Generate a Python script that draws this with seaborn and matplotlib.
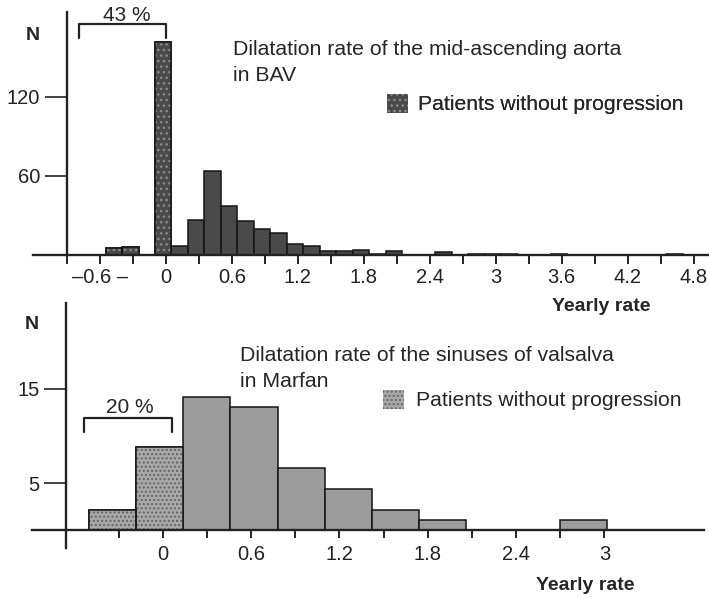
import numpy as np
import pandas as pd
import seaborn as sns
import matplotlib.pyplot as plt
from matplotlib.patches import Patch

# mid-ascending aorta in BAV (bins of 0.15 per year)
bav_edges = [-0.55, -0.40, -0.25, -0.10, 0.05, 0.20, 0.35, 0.50, 0.65, 0.80,
             0.95, 1.10, 1.25, 1.40, 1.55, 1.70, 1.85, 2.00, 2.15, 2.30,
             2.45, 2.60, 2.75, 2.90, 3.05, 3.20, 3.35, 3.50, 3.65, 3.80,
             3.95, 4.10, 4.25, 4.40, 4.55, 4.70]
bav_counts = [5, 6, 0, 162, 6.5, 26.5, 64, 37.5, 26, 19.5,
              16.5, 8.5, 6.5, 3, 3, 4, 1, 3, 0, 0,
              2, 0, 1, 1, 1, 0, 0, 1, 0, 0,
              0, 0, 0, 0, 1]
bav_no_prog = 4   # first bins = patients without progression
bav_ticks = [-0.9, -0.6, -0.3, 0, 0.3, 0.6, 0.9, 1.2, 1.5, 1.8,
             2.1, 2.4, 2.7, 3.0, 3.3, 3.6, 3.9, 4.2, 4.5, 4.8]
bav_tick_labels = ['', '–0.6 –', '', '0', '', '0.6', '', '1.2', '', '1.8',
                   '', '2.4', '', '3', '', '3.6', '', '4.2', '', '4.8']

# sinuses of valsalva in Marfan (bins of 0.32 per year)
mfs_edges = [-0.50, -0.18, 0.14, 0.46, 0.78, 1.10, 1.42, 1.74, 2.06, 2.38, 2.70, 3.02]
mfs_counts = [2.2, 8.8, 14.1, 13.1, 6.6, 4.4, 2.2, 1.05, 0, 0, 1.05]
mfs_no_prog = 2
mfs_ticks = [-0.3, 0, 0.3, 0.6, 0.9, 1.2, 1.5, 1.8, 2.1, 2.4, 2.7, 3.0]
mfs_tick_labels = ['', '0', '', '0.6', '', '1.2', '', '1.8', '', '2.4', '', '3']

sns.set_style('white')
plt.rcParams['font.family'] = ['Liberation Sans', 'DejaVu Sans']
plt.rcParams['hatch.linewidth'] = 1.0

W, H = 709, 598
fig = plt.figure(figsize=(W / 100, H / 100), dpi=100)


def fx(px):
    return px / W


def fy(py):
    return 1 - py / H


def hist_panel(ax, edges, counts, n_dot, fill, dot_fill, dot_color, hatch):
    centers = [(a + b) / 2 for a, b in zip(edges[:-1], edges[1:])]
    df = pd.DataFrame({'rate': centers, 'n': counts})
    sns.histplot(data=df, x='rate', weights='n', bins=edges, ax=ax,
                 color=fill, edgecolor='#151515', linewidth=1.1, alpha=1)
    # dotted fill for patients without progression
    n0 = len(ax.patches)
    sns.histplot(data=df.iloc[:n_dot], x='rate', weights='n', bins=edges[:n_dot + 1],
                 ax=ax, color=dot_fill, alpha=1)
    for p in ax.patches[n0:]:
        p.set_facecolor(dot_fill)
        p.set_edgecolor(dot_color)
        p.set_hatch(hatch)
        p.set_linewidth(0)
    n1 = len(ax.patches)
    sns.histplot(data=df.iloc[:n_dot], x='rate', weights='n', bins=edges[:n_dot + 1],
                 ax=ax, color=dot_fill, alpha=1)
    for p in ax.patches[n1:]:
        p.set_facecolor('none')
        p.set_edgecolor('#151515')
        p.set_linewidth(1.1)
    ax.set_xlabel('')
    ax.set_ylabel('')


def style_axes(ax, yaxis_x, ticks, labels, yticks, xlen, xpad):
    sns.despine(ax=ax)
    ax.spines['left'].set_position(('data', yaxis_x))
    ax.spines['bottom'].set_position(('data', 0))
    for s in ['left', 'bottom']:
        ax.spines[s].set_linewidth(1.7)
        ax.spines[s].set_color('#222222')
    ax.set_xticks(ticks)
    ax.set_xticklabels(labels)
    ax.set_yticks(yticks)
    ax.tick_params(axis='x', direction='out', length=xlen, width=1.4, pad=xpad,
                   labelsize=14.5, colors='#222222', bottom=True)
    ax.tick_params(axis='y', direction='out', length=16, width=1.2, pad=3.5,
                   labelsize=14.5, colors='#222222', left=True)
    ax.patch.set_alpha(0)


# ---- top panel ----
ax1 = fig.add_axes([fx(33), fy(255), fx(709) - fx(33), (255 - 12) / H])
hist_panel(ax1, bav_edges, bav_counts, bav_no_prog, '#4a4a4a', '#4a4a4a', '#8a8a8a', '...')
ax1.set_xlim(-1.21, 4.94)
ax1.set_ylim(0, 184.4)
style_axes(ax1, -0.9, bav_ticks, bav_tick_labels, [60, 120], 6.5, 3)

ax1.plot([-0.79, -0.79, 0.0, 0.0], [164.5, 175.3, 175.3, 164.5], color='#222222',
         lw=1.6, clip_on=False)
fig.text(fx(127), fy(21), '43 %', ha='center', va='baseline', fontsize=15)
fig.text(fx(33), fy(40), 'N', ha='center', va='baseline', fontsize=14, fontweight='bold')
fig.text(fx(233), fy(55), 'Dilatation rate of the mid-ascending aorta', ha='left',
         va='baseline', fontsize=15.3)
fig.text(fx(233), fy(81), 'in BAV', ha='left', va='baseline', fontsize=15.3)
fig.text(fx(601), fy(311), 'Yearly rate', ha='center', va='baseline', fontsize=14,
         fontweight='bold')
leg1 = fig.legend(handles=[Patch(facecolor='#4a4a4a', edgecolor='#8a8a8a', hatch='...',
                                 linewidth=0)],
                  labels=['Patients without progression'], loc='center left',
                  bbox_to_anchor=(fx(387), fy(104)), frameon=False, fontsize=15.2,
                  handlelength=1.0, handleheight=1.0, handletextpad=0.45,
                  borderpad=0, borderaxespad=0)

# ---- bottom panel ----
ax2 = fig.add_axes([fx(32), fy(548), fx(704) - fx(32), (548 - 303) / H])
hist_panel(ax2, mfs_edges, mfs_counts, mfs_no_prog, '#9c9c9c', '#a8a8a8', '#666666', '....')
ax2.set_xlim(-0.888, 3.677)
ax2.set_ylim(-1.87, 24.1)
style_axes(ax2, -0.654, mfs_ticks, mfs_tick_labels, [5, 15], 5.5, 5)

ax2.plot([-0.532, -0.532, 0.066, 0.066], [10.45, 11.9, 11.9, 10.45], color='#222222',
         lw=1.6, clip_on=False)
fig.text(fx(130), fy(412.7), '20 %', ha='center', va='baseline', fontsize=15)
fig.text(fx(32), fy(329), 'N', ha='center', va='baseline', fontsize=14, fontweight='bold')
fig.text(fx(240), fy(361), 'Dilatation rate of the sinuses of valsalva', ha='left',
         va='baseline', fontsize=15.3)
fig.text(fx(240), fy(387), 'in Marfan', ha='left', va='baseline', fontsize=15.3)
fig.text(fx(585), fy(590), 'Yearly rate', ha='center', va='baseline', fontsize=14,
         fontweight='bold')
leg2 = fig.legend(handles=[Patch(facecolor='#a8a8a8', edgecolor='#666666', hatch='....',
                                 linewidth=0)],
                  labels=['Patients without progression'], loc='center left',
                  bbox_to_anchor=(fx(383), fy(400)), frameon=False, fontsize=15.2,
                  handlelength=1.0, handleheight=1.0, handletextpad=0.55,
                  borderpad=0, borderaxespad=0)
fig.add_artist(leg1)

fig.savefig('out.png', dpi=100)
